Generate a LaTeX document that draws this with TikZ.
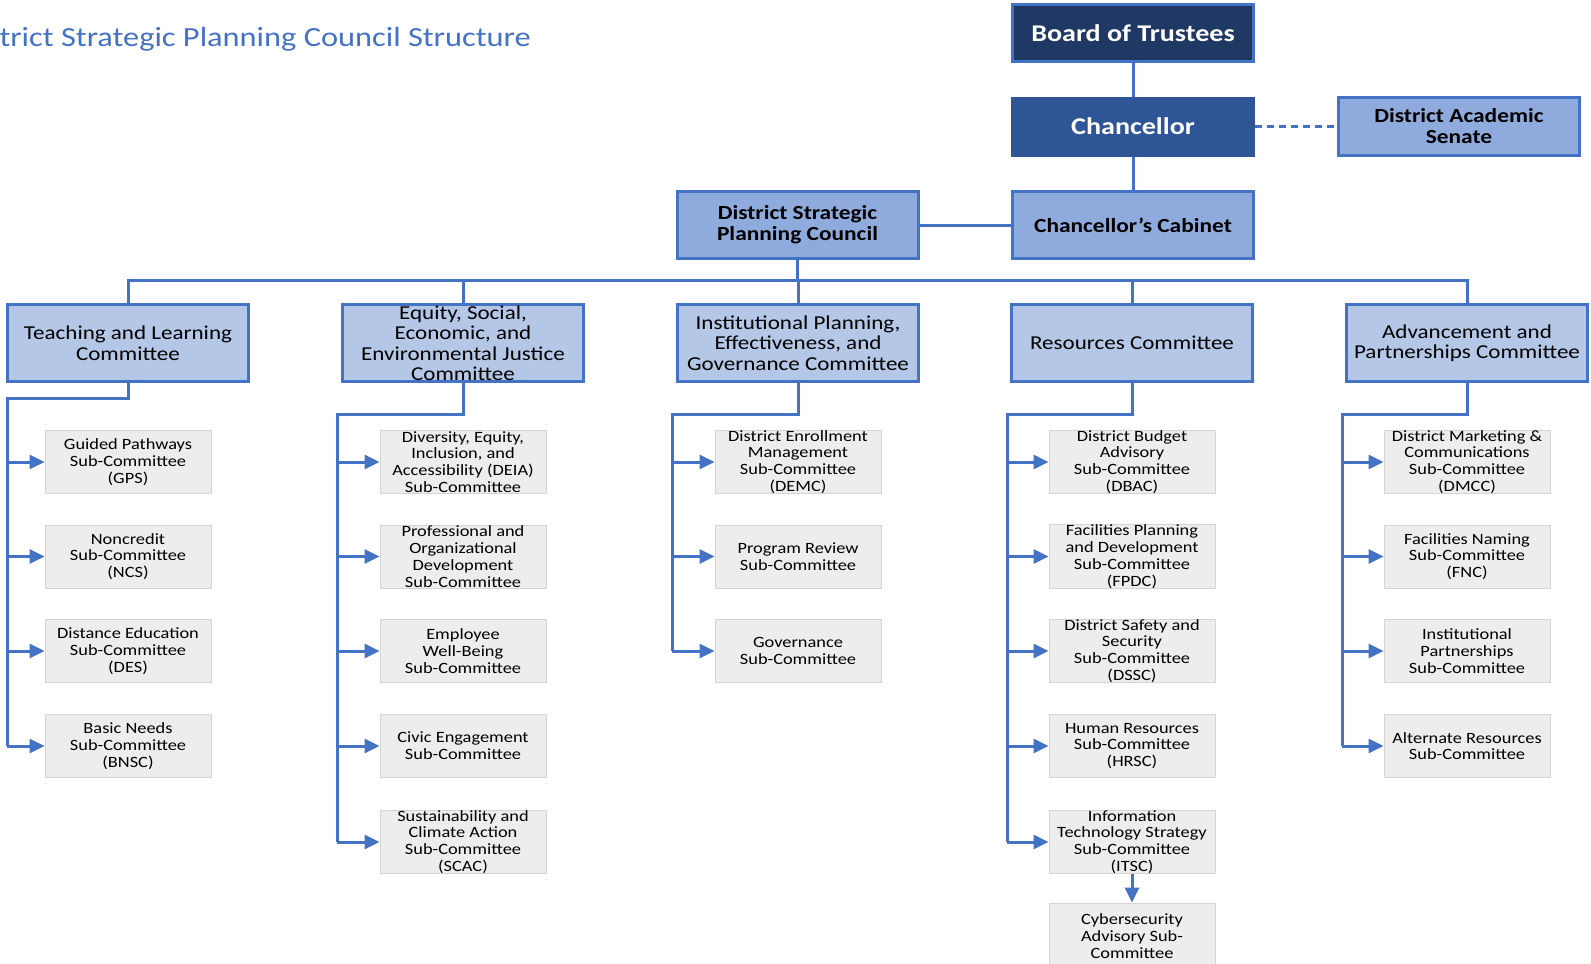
\documentclass[tikz,border=0pt]{standalone}
\usepackage{fontspec}
\setmainfont[FakeStretch=1.17]{Carlito}
\usetikzlibrary{arrows.meta}
\definecolor{lineblue}{HTML}{4472C4}
\definecolor{navy}{HTML}{203864}
\definecolor{chanblue}{HTML}{2F5597}
\definecolor{midblue}{HTML}{8FAADC}
\definecolor{lightblue}{HTML}{B4C7E7}
\definecolor{subfill}{HTML}{EDEDED}
\definecolor{subdraw}{HTML}{D4D4D4}
\tikzset{
  topbox/.style={draw=lineblue, line width=3pt, minimum width=241pt, minimum height=57pt, inner sep=0pt, align=center, font=\bfseries\fontsize{24}{26}\selectfont},
  midbox/.style={draw=lineblue, fill=midblue, line width=3pt, minimum width=241pt, minimum height=58pt, inner sep=0pt, align=center, font=\bfseries\fontsize{20}{21}\selectfont},
  combox/.style={draw=lineblue, fill=lightblue, line width=3.2pt, minimum width=241pt, minimum height=77pt, inner sep=0pt, align=center, font=\fontsize{19.7}{20.5}\selectfont},
  subbox/.style={draw=subdraw, fill=subfill, line width=1pt, minimum width=166pt, minimum height=63pt, inner sep=0pt, align=center, font=\fontsize{15.7}{16.8}\selectfont},
  conn/.style={draw=lineblue, line width=3pt},
  arr/.style={draw=lineblue, line width=3pt, -{Triangle[length=15pt,width=14pt]}, fill=lineblue},
}
\begin{document}
\begin{tikzpicture}[x=1pt,y=-1pt]
\useasboundingbox (0,0) rectangle (1591,964);
\fill[white] (0,0) rectangle (1591,964);
% title
\node[anchor=base east, inner sep=0pt, text=lineblue, font=\fontsize{27.7}{30}\selectfont] (title) at (531,46.5) {trict Strategic Planning Council Structure};
% top
\node[topbox, fill=navy, text=white] (bot) at (1133,33) {Board of Trustees};
\node[topbox, fill=chanblue, draw=chanblue, text=white] (chan) at (1133,126.5) {Chancellor};
\node[midbox] (das) at (1459,126.5) {District Academic\\Senate};
\node[midbox, minimum height=67pt] (cab) at (1133,225) {Chancellor’s Cabinet};
\node[midbox, minimum height=67pt] (dspc) at (797.5,225) {District Strategic\\Planning Council};
% committees
\node[combox] (c1) at (128,343) {Teaching and Learning\\Committee};
\node[combox] (c2) at (463,343) {Equity, Social,\\Economic, and\\Environmental Justice\\Committee};
\node[combox] (c3) at (798,343) {Institutional Planning,\\Effectiveness, and\\Governance Committee};
\node[combox] (c4) at (1132,343) {Resources Committee};
\node[combox] (c5) at (1467,343) {Advancement and\\Partnerships Committee};
% column 1
\node[subbox] (s11) at (128,462) {Guided Pathways\\Sub-Committee\\(GPS)};
\node[subbox] (s12) at (128,556.5) {Noncredit\\Sub-Committee\\(NCS)};
\node[subbox] (s13) at (128,651) {Distance Education\\Sub-Committee\\(DES)};
\node[subbox] (s14) at (128,746) {Basic Needs\\Sub-Committee\\(BNSC)};
% column 2
\node[subbox] (s21) at (463,462) {Diversity, Equity,\\Inclusion, and\\Accessibility (DEIA)\\Sub-Committee};
\node[subbox] (s22) at (463,556.5) {Professional and\\Organizational\\Development\\Sub-Committee};
\node[subbox] (s23) at (463,651) {Employee\\Well-Being\\Sub-Committee};
\node[subbox] (s24) at (463,746) {Civic Engagement\\Sub-Committee};
\node[subbox] (s25) at (463,842) {Sustainability and\\Climate Action\\Sub-Committee\\(SCAC)};
% column 3
\node[subbox] (s31) at (798,462) {District Enrollment\\Management\\Sub-Committee\\(DEMC)};
\node[subbox] (s32) at (798,556.5) {Program Review\\Sub-Committee};
\node[subbox] (s33) at (798,651) {Governance\\Sub-Committee};
% column 4
\node[subbox] (s41) at (1132,462) {District Budget\\Advisory\\Sub-Committee\\(DBAC)};
\node[subbox] (s42) at (1132,556.5) {Facilities Planning\\and Development\\Sub-Committee\\(FPDC)};
\node[subbox] (s43) at (1132,651) {District Safety and\\Security\\Sub-Committee\\(DSSC)};
\node[subbox] (s44) at (1132,746) {Human Resources\\Sub-Committee\\(HRSC)};
\node[subbox] (s45) at (1132,842) {Information\\Technology Strategy\\Sub-Committee\\(ITSC)};
\node[subbox, minimum height=66pt] (s46) at (1132,936) {Cybersecurity\\Advisory Sub-\\Committee};
% column 5
\node[subbox] (s51) at (1467,462) {District Marketing \&\\Communications\\Sub-Committee\\(DMCC)};
\node[subbox] (s52) at (1467,556.5) {Facilities Naming\\Sub-Committee\\(FNC)};
\node[subbox] (s53) at (1467,651) {Institutional\\Partnerships\\Sub-Committee};
\node[subbox] (s54) at (1467,746) {Alternate Resources\\Sub-Committee};
% top connectors
\draw[conn] (bot.south) -- (chan.north);
\draw[conn] (chan.south) -- (cab.north);
\draw[draw=lineblue, line width=2.2pt, dash pattern=on 7pt off 5pt] (chan.east) -- (das.west);
\draw[conn] (dspc.east) -- (cab.west);
% bus
\coordinate (bus) at (797.5,280);
\draw[conn] (dspc.south) -- (bus);
\draw[conn] (c1.north) -- (c1.north |- bus) -- (c5.north |- bus) -- (c5.north);
\draw[conn] (c2.north) -- (c2.north |- bus);
\draw[conn] (c3.north) -- (c3.north |- bus);
\draw[conn] (c4.north) -- (c4.north |- bus);
% spines
\coordinate (e1) at (7,398);
\coordinate (e2) at (337,414);
\coordinate (e3) at (672,414);
\coordinate (e4) at (1007,414);
\coordinate (e5) at (1342,414);
\draw[conn] (c1.south) |- (e1) -- (e1 |- s14.west);
\draw[conn] (c2.south) |- (e2) -- (e2 |- s25.west);
\draw[conn] (c3.south) |- (e3) -- (e3 |- s33.west);
\draw[conn] (c4.south) |- (e4) -- (e4 |- s45.west);
\draw[conn] (c5.south) |- (e5) -- (e5 |- s54.west);
% arrows
\foreach \s in {s11,s12,s13,s14} \draw[arr] (e1 |- \s.west) -- (\s.west);
\foreach \s in {s21,s22,s23,s24,s25} \draw[arr] (e2 |- \s.west) -- (\s.west);
\foreach \s in {s31,s32,s33} \draw[arr] (e3 |- \s.west) -- (\s.west);
\foreach \s in {s41,s42,s43,s44,s45} \draw[arr] (e4 |- \s.west) -- (\s.west);
\foreach \s in {s51,s52,s53,s54} \draw[arr] (e5 |- \s.west) -- (\s.west);
\draw[arr] (s45.south) -- (s46.north);
\end{tikzpicture}
\end{document}
